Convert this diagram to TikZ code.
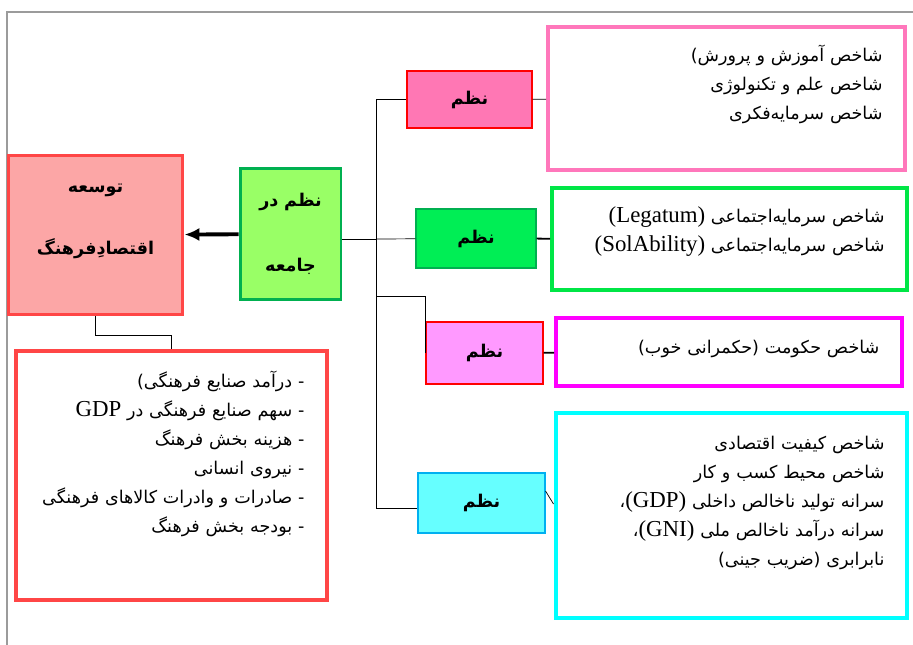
\documentclass[tikz,border=0pt]{standalone}
\usepackage{fontspec}
\usepackage{xcolor}
\usetikzlibrary{positioning,arrows.meta}
\setmainfont{Liberation Serif}
\newfontfamily\arabicfont[Script=Arabic]{DejaVu Sans}
\newfontfamily\latinfont{Liberation Serif}
\TeXXeTstate=1
\newcommand{\rl}[1]{\beginR #1\endR}
\newcommand{\vis}[1]{\beginL #1\endL}
\newcommand{\lat}[1]{\beginL{\latinfont\fontsize{13pt}{16pt}\selectfont #1}\endL}
\definecolor{culturered}{RGB}{255,70,70}
\definecolor{culturefill}{RGB}{252,166,166}
\definecolor{societyline}{RGB}{0,176,80}
\definecolor{societyfill}{RGB}{153,255,102}
\definecolor{rosefill}{RGB}{255,119,180}
\definecolor{roseline}{RGB}{255,119,187}
\definecolor{leaffill}{RGB}{0,238,85}
\definecolor{leafline}{RGB}{0,230,70}
\definecolor{orchidfill}{RGB}{255,153,255}
\definecolor{orchidline}{RGB}{255,0,255}
\definecolor{aquafill}{RGB}{102,255,255}
\definecolor{aqualine}{RGB}{0,255,255}
\definecolor{aquaedge}{RGB}{0,176,240}
\definecolor{framegray}{RGB}{155,155,155}

\begin{document}
\begin{tikzpicture}[x=0.02cm,y=-0.02cm,
  font=\arabicfont\fontsize{10pt}{16.5pt}\selectfont]
  \tikzstyle{topic}=[rectangle,draw,line width=1.7pt,inner xsep=0pt,align=center,font=\arabicfont\bfseries\fontsize{10pt}{14pt}\selectfont]
  \tikzstyle{order}=[rectangle,draw,line width=0.6pt,font=\arabicfont\bfseries\fontsize{10pt}{14pt}\selectfont]
  \tikzstyle{indexbox}=[rectangle,draw,line width=2.3pt,inner xsep=0.45cm,align=right]
  \useasboundingbox (0,0) rectangle (913,645);
  \draw[framegray,line width=1.2pt] (7,645) -- (7,12) -- (913,12);

  \node[topic,fill=culturefill,draw=culturered,text width=3.5cm,minimum height=3.2cm] (culture) at (95.5,235) {\rl{توسعه}\\[0.75cm]\rl{اقتصادِفرهنگ}\par\kern0.55cm};
  \node[topic,fill=societyfill,draw=societyline,text width=2.02cm,minimum height=2.64cm] (society) at (290.5,234) {\rl{نظم در}\\[0.8cm]\rl{جامعه}};
  \node[indexbox,draw=culturered,minimum height=4.98cm,text width=5.32cm] (list) at (171.5,475.5) {\rl{- درآمد صنایع فرهنگی\vis{)}}\\ \rl{- سهم صنایع فرهنگی در \lat{GDP}}\\ \rl{- هزینه بخش فرهنگ}\\ \rl{- نیروی انسانی}\\ \rl{- صادرات و وادرات کالاهای فرهنگی}\\ \rl{- بودجه بخش فرهنگ}\par\kern0.88cm};

  \node[order,fill=rosefill,draw=red,minimum width=2.5cm,minimum height=1.14cm] (n1) at (469.5,99.5) {نظم};
  \node[order,fill=leaffill,draw=societyline,minimum width=2.4cm,minimum height=1.18cm] (n2) at (476,238.5) {نظم};
  \node[order,fill=orchidfill,draw=red,minimum width=2.34cm,minimum height=1.24cm] (n3) at (484.5,353) {نظم};
  \node[order,fill=aquafill,draw=aquaedge,minimum width=2.54cm,minimum height=1.2cm] (n4) at (481.5,503) {نظم};

  \node[indexbox,draw=roseline,minimum height=2.86cm,text width=6.24cm] (i1) at (726.5,98.5) {\rl{شاخص آموزش و پرورش\vis{)}}\\ \rl{شاخص علم و تکنولوژی}\\ \rl{شاخص سرمایه‌فکری}\par\kern0.56cm};
  \node[indexbox,draw=leafline,minimum height=2.04cm,text width=6.2cm] (i2) at (729.5,239) {\rl{شاخص سرمایه‌اجتماعی \lat{(Legatum)}}\\ \rl{شاخص سرمایه‌اجتماعی \lat{(SolAbility)}}\par\kern0.3cm};
  \node[indexbox,draw=orchidline,minimum height=1.36cm,text width=6.02cm] (i3) at (729,352) {\rl{شاخص حکومت (حکمرانی خوب)}\par\kern0.12cm};
  \node[indexbox,draw=aqualine,minimum height=4.1cm,text width=6.12cm] (i4) at (731.5,515.5) {\rl{شاخص کیفیت اقتصادی}\\ \rl{شاخص محیط کسب و کار}\\ \rl{سرانه تولید ناخالص داخلی \lat{(GDP)}،}\\ \rl{سرانه درآمد ناخالص ملی \lat{(GNI)}،}\\ \rl{نابرابری (ضریب جینی)}\par\kern0.5cm};

  \coordinate (j_0) at (376,239);
  \coordinate (j_1) at (376,99.5);
  \coordinate (j_3) at (376,296);
  \coordinate (j_4) at (376,508);

  \draw[-{Latex[length=8.5pt,width=7.5pt]},line width=2.2pt] (society) -- (culture);
  \draw (culture.south) -- ++(0,19) -| (list.north);
  \path[draw]
  (society.east |- j_0) edge (j_0)
  (j_1) edge (j_4)
  (j_1) edge (n1)
  (j_0) edge (n2)
  (j_3) edge[to path={-| (\tikztotarget)}] (n3.west)
  (j_4) edge (j_4 -| n4.west)
  (n1) edge (i1)
  (n2) edge[line width=1pt] (i2)
  (n3) edge[line width=1pt] (i3)
  ;
  \draw ([yshift=0.24cm]n4.east) -- ([xshift=0.16cm,yshift=-0.02cm]n4.east);
\end{tikzpicture}
\end{document}
